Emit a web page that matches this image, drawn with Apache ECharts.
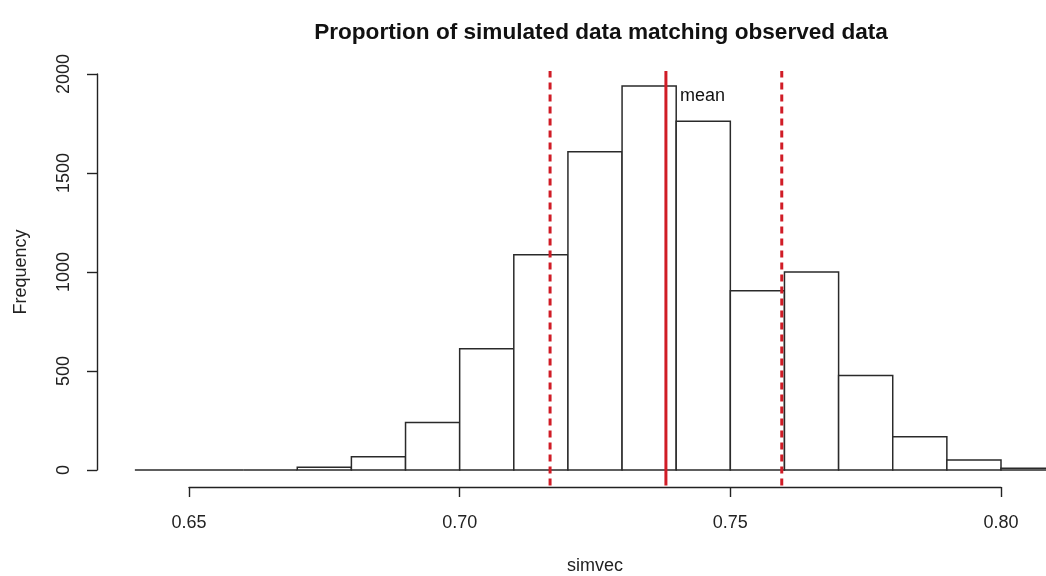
<!DOCTYPE html>
<html>
<head>
<meta charset="utf-8">
<script src="https://cdn.jsdelivr.net/npm/echarts@6/dist/echarts.min.js"></script>
<style>
  html, body { margin: 0; padding: 0; background: #fff; }
  #chart { width: 1046px; height: 576px; }
</style>
</head>
<body>
<div id="chart"></div>
<script>
// histogram breaks (bin edges) and counts per bin
var breaks = [0.64, 0.65, 0.66, 0.67, 0.68, 0.69, 0.70, 0.71, 0.72, 0.73,
              0.74, 0.75, 0.76, 0.77, 0.78, 0.79, 0.80, 0.81, 0.82];
var counts = [0, 0, 0, 14, 67, 240, 612, 1087, 1607, 1939,
              1761, 905, 1000, 477, 168, 50, 9, 1];

// reference lines
var lowerVal = 0.7167;
var meanVal = 0.7381;
var upperVal = 0.7595;
var meanLabelY = 1890;

// tick labels
var xTicks = [0.65, 0.70, 0.75, 0.80];
var yTicks = [0, 500, 1000, 1500, 2000];

// pixel layout (R style: axes drawn only between first and last tick)
var W = 1046, H = 576;
var xAxisLeft = 189, xAxisRight = 1001, xAxisY = 488;
var yAxisX = 97, yAxisTop = 74, yAxisBottom = 470;
var plotTop = 71, plotBottom = 485.5;

var pxPerX = (xAxisRight - xAxisLeft) / (xTicks[xTicks.length - 1] - xTicks[0]);
var xMin = xTicks[0] - (xAxisLeft - yAxisX) / pxPerX;
var xMax = xTicks[xTicks.length - 1] + (W - xAxisRight) / pxPerX;
var pxPerY = (yAxisBottom - yAxisTop) / (yTicks[yTicks.length - 1] - yTicks[0]);
var yMin = -(plotBottom - yAxisBottom) / pxPerY;
var yMax = (yAxisBottom - plotTop) / pxPerY;

var bins = counts.map(function (c, i) { return [breaks[i], breaks[i + 1], c]; });

var font = '"Liberation Sans", Arial, sans-serif';
var ink = '#222';
var red = '#d01c26';

function vline(v, dash) {
  return {
    type: 'line',
    xAxisIndex: 0,
    yAxisIndex: 0,
    silent: true,
    symbol: 'none',
    data: [[v, yMin], [v, yMax]],
    lineStyle: { color: red, width: 3, type: dash },
    z: 3
  };
}

var chart = echarts.init(document.getElementById('chart'));
var option = {
  animation: false,
  backgroundColor: '#fff',
  title: {
    text: 'Proportion of simulated data matching observed data',
    left: 596,
    top: 16,
    textAlign: 'center',
    textStyle: { fontFamily: font, fontSize: 22.6, fontWeight: 'bold', color: '#111' }
  },
  grid: [
    { left: yAxisX, right: 0, top: plotTop, bottom: H - plotBottom },
    { left: xAxisLeft, right: W - xAxisRight, top: xAxisY - 10, bottom: H - xAxisY },
    { left: yAxisX, width: 40, top: yAxisTop, bottom: H - yAxisBottom }
  ],
  xAxis: [
    { gridIndex: 0, type: 'value', min: xMin, max: xMax, show: false },
    {
      gridIndex: 1, type: 'value', min: xTicks[0], max: xTicks[xTicks.length - 1], interval: 0.05,
      position: 'bottom',
      name: 'simvec', nameLocation: 'middle', nameGap: 70,
      nameTextStyle: { fontFamily: font, fontSize: 18, color: ink },
      axisLine: { lineStyle: { color: ink, width: 1.4 } },
      axisTick: { length: 10, lineStyle: { color: ink, width: 1.4 } },
      axisLabel: {
        margin: 27, fontFamily: font, fontSize: 18, color: ink,
        formatter: function (v) { return v.toFixed(2); }
      },
      splitLine: { show: false }
    },
    { gridIndex: 2, type: 'value', show: false }
  ],
  yAxis: [
    { gridIndex: 0, type: 'value', min: yMin, max: yMax, show: false },
    { gridIndex: 1, type: 'value', show: false },
    {
      gridIndex: 2, type: 'value', min: yTicks[0], max: yTicks[yTicks.length - 1], interval: 500,
      position: 'left',
      name: 'Frequency', nameLocation: 'middle', nameGap: 67,
      nameTextStyle: { fontFamily: font, fontSize: 18, color: ink },
      axisLine: { show: true, lineStyle: { color: ink, width: 1.4 } },
      axisTick: { show: true, length: 10, lineStyle: { color: ink, width: 1.4 } },
      axisLabel: {
        rotate: 90, margin: 24, fontFamily: font, fontSize: 18, color: ink,
        formatter: function (v) { return String(v); }
      },
      splitLine: { show: false }
    }
  ],
  series: [
    {
      type: 'custom',
      xAxisIndex: 0,
      yAxisIndex: 0,
      data: bins,
      clip: true,
      renderItem: function (params, api) {
        var p0 = api.coord([api.value(0), api.value(2)]);
        var p1 = api.coord([api.value(1), 0]);
        return {
          type: 'rect',
          shape: { x: p0[0], y: p0[1], width: p1[0] - p0[0], height: p1[1] - p0[1] },
          style: { fill: '#fff', stroke: '#2a2a2a', lineWidth: 1.5 }
        };
      },
      z: 2
    },
    vline(lowerVal, [7, 5]),
    vline(meanVal, 'solid'),
    vline(upperVal, [7, 5]),
    {
      type: 'scatter',
      xAxisIndex: 0,
      yAxisIndex: 0,
      silent: true,
      symbolSize: 0,
      itemStyle: { opacity: 1 },
      data: [[meanVal, meanLabelY]],
      label: {
        show: true, position: 'right', distance: 14,
        formatter: 'mean', fontFamily: font, fontSize: 18, color: '#111'
      },
      z: 4
    }
  ]
};
chart.setOption(option);
</script>
</body>
</html>
